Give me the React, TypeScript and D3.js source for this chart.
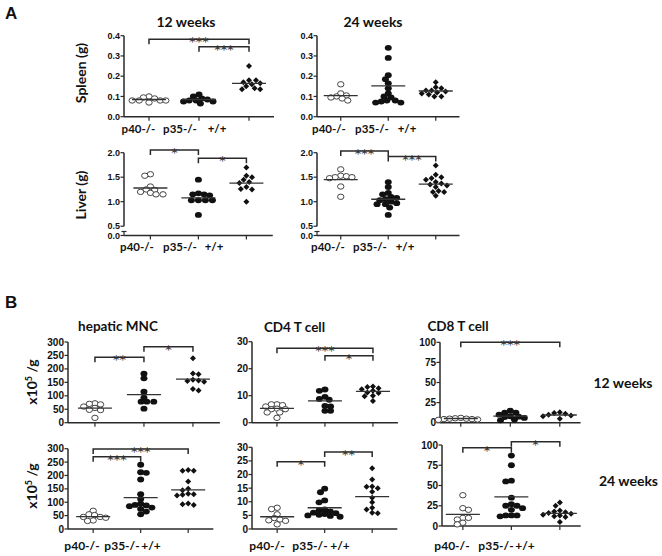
import React from 'react';
import * as d3 from 'd3';

const groups = ['p40-/-', 'p35-/-', '+/+'];

// ---------- Panel A: organ weights ----------
// Spleen (g), 12 weeks
const spleen12P40 = [0.10, 0.095, 0.09, 0.08, 0.08, 0.08, 0.08, 0.07];
const spleen12P35 = [0.11, 0.10, 0.09, 0.085, 0.08, 0.08, 0.075, 0.075, 0.065];
const spleen12WT = [0.25, 0.18, 0.18, 0.17, 0.165, 0.16, 0.15, 0.14, 0.135, 0.135];
const spleen12Means = [0.085, 0.085, 0.165];
// Spleen (g), 24 weeks
const spleen24P40 = [0.16, 0.115, 0.105, 0.1, 0.095, 0.09, 0.08];
const spleen24P35 = [0.34, 0.29, 0.205, 0.185, 0.165, 0.14, 0.115, 0.1, 0.095, 0.08, 0.08, 0.075, 0.07, 0.07];
const spleen24WT = [0.17, 0.145, 0.14, 0.13, 0.13, 0.125, 0.12, 0.115, 0.11, 0.1, 0.1];
const spleen24Means = [0.104, 0.152, 0.127];
// Liver (g), 12 weeks
const liver12P40 = [1.56, 1.53, 1.31, 1.25, 1.24, 1.2, 1.18, 1.15, 1.15];
const liver12P35 = [1.45, 1.15, 1.15, 1.13, 1.17, 1.03, 1.03, 1.03, 1.03, 0.73];
const liver12WT = [1.7, 1.53, 1.5, 1.45, 1.4, 1.38, 1.3, 1.26, 1.25, 1.0];
const liver12Means = [1.28, 1.08, 1.38];
// Liver (g), 24 weeks
const liver24P40 = [1.66, 1.53, 1.52, 1.5, 1.5, 1.48, 1.31, 1.1];
const liver24P35 = [1.4, 1.3, 1.18, 1.15, 1.1, 1.08, 1.05, 1.03, 1.0, 0.97, 0.95, 0.95, 0.88, 0.73];
const liver24WT = [1.74, 1.55, 1.5, 1.48, 1.45, 1.4, 1.37, 1.35, 1.33, 1.3, 1.22, 1.2, 1.2, 1.12];
const liver24Means = [1.45, 1.05, 1.36];

// ---------- Panel B: cell numbers (x10^5 / g) ----------
const mnc12P40 = [72, 70, 68, 60, 55, 48, 47, 18];
const mnc12P35 = [182, 165, 115, 93, 78, 78, 78, 52];
const mnc12WT = [240, 183, 180, 160, 157, 155, 152, 125, 120];
const mnc12Means = [54, 104, 162];
const cd4_12P40 = [6.8, 6.8, 6.5, 6.0, 5.2, 5.0, 5.0, 3.8, 3.8, 1.8];
const cd4_12P35 = [12.3, 11.8, 9.6, 8.8, 8.5, 6.2, 6.0, 4.4, 4.4];
const cd4_12WT = [13.4, 13.2, 12.8, 12.4, 11.8, 11.2, 11.0, 10.0, 9.8, 8.0];
const cd4_12Means = [5.3, 8.1, 11.6];
const cd8_12P40 = [6, 5.5, 5, 5, 4.5, 4.5, 4, 3.5];
const cd8_12P35 = [15, 12.5, 12.5, 10, 8, 7.5, 7, 6, 4, 3];
const cd8_12WT = [13, 12, 11, 10, 9, 8, 5];
const cd8_12Means = [5.2, 8.3, 9.6];

const mnc24P40 = [68, 55, 52, 45, 45, 42, 32, 30];
const mnc24P35 = [240, 212, 210, 185, 130, 112, 95, 90, 88, 85, 80, 75, 65, 55];
const mnc24WT = [220, 218, 218, 177, 150, 145, 132, 130, 128, 125, 95, 92, 90];
const mnc24Means = [46, 117, 146];
const cd4_24P40 = [7.8, 7.3, 5.4, 4.0, 3.5, 3.2, 3.0, 1.7];
const cd4_24P35 = [14.8, 13.5, 10.5, 9.8, 7.2, 6.8, 6.5, 6.0, 5.8, 5.5, 5.2, 5.0, 4.8, 4.5];
const cd4_24WT = [22.3, 18.2, 15.6, 15.0, 15.5, 13.7, 11.5, 9.8, 7.8, 7.2, 6.0, 5.8];
const cd4_24Means = [4.5, 7.8, 11.9];
const cd8_24P40 = [38, 22, 20, 10, 10, 8, 4, 2];
const cd8_24P35 = [87, 75, 56, 55, 35, 27, 25, 25, 22, 20, 13, 13, 13, 12];
const cd8_24WT = [29, 25, 19, 18, 17, 16, 15, 14, 13, 12, 11, 5];
const cd8_24Means = [14.4, 36, 15.6];

const spleenTicks = [0, 0.1, 0.2, 0.3, 0.4];
const liverTicks = [0, 0.5, 1.0, 1.5, 2.0];
const mncTicks = [0, 50, 100, 150, 200, 250, 300];
const cd4Ticks12 = [0, 10, 20, 30];
const cd4Ticks24 = [0, 5, 10, 15, 20, 25, 30];
const cd8Ticks = [0, 25, 50, 75, 100];

type Bracket = { from: number; to: number; level: number; label: string };
type Panel = {
  key: string;
  series: number[][];
  means: number[];
  yDomain: number[];
  yRange: number[];
  ticks: number[];
  fmt: (v: number) => string;
  axisX: number;
  step: number;
  pad: number;
  brackets: Bracket[];
  broken?: boolean;
  tickSize: number;
  labels?: { xs: number[]; y: number; size: number };
};

const f1 = d3.format('.1f');
const f0 = d3.format('d');

const panels: Panel[] = [
  {
    key: 'spleen12', series: [spleen12P40, spleen12P35, spleen12WT], means: spleen12Means,
    yDomain: [0, 0.4], yRange: [116.7, 35.7], ticks: spleenTicks, fmt: f1,
    axisX: 124, step: 50, pad: 0.5, tickSize: 9,
    brackets: [
      { from: 0, to: 2, level: 0.382, label: '***' },
      { from: 1, to: 2, level: 0.346, label: '***' },
    ],
    labels: { xs: [138.5, 180, 217], y: 133, size: 11.5 },
  },
  {
    key: 'spleen24', series: [spleen24P40, spleen24P35, spleen24WT], means: spleen24Means,
    yDomain: [0, 0.4], yRange: [116.7, 35.7], ticks: spleenTicks, fmt: f1,
    axisX: 317, step: 47.5, pad: 0.5, tickSize: 9, brackets: [],
    labels: { xs: [329, 372, 407], y: 133, size: 11.5 },
  },
  {
    key: 'liver12', series: [liver12P40, liver12P35, liver12WT], means: liver12Means,
    yDomain: [0, 0.5, 2], yRange: [235.5, 226.2, 152.7], ticks: liverTicks, fmt: f1,
    axisX: 124, step: 48, pad: 0.55, tickSize: 9, broken: true,
    brackets: [
      { from: 0, to: 1, level: 2.055, label: '*' },
      { from: 1, to: 2, level: 1.886, label: '*' },
    ],
    labels: { xs: [137, 180, 214], y: 251, size: 11.5 },
  },
  {
    key: 'liver24', series: [liver24P40, liver24P35, liver24WT], means: liver24Means,
    yDomain: [0, 0.5, 2], yRange: [235.5, 226.2, 152.7], ticks: liverTicks, fmt: f1,
    axisX: 317, step: 47.5, pad: 0.5, tickSize: 9, broken: true,
    brackets: [
      { from: 0, to: 1, level: 2.034, label: '***' },
      { from: 1, to: 2, level: 1.92, label: '***' },
    ],
    labels: { xs: [328, 370, 405], y: 251, size: 11.5 },
  },
  {
    key: 'mnc12', series: [mnc12P40, mnc12P35, mnc12WT], means: mnc12Means,
    yDomain: [0, 300], yRange: [422.7, 342], ticks: mncTicks, fmt: f0,
    axisX: 68, step: 49, pad: 0.55, tickSize: 10,
    brackets: [
      { from: 0, to: 1, level: 243, label: '**' },
      { from: 1, to: 2, level: 282, label: '*' },
    ],
  },
  {
    key: 'cd4_12', series: [cd4_12P40, cd4_12P35, cd4_12WT], means: cd4_12Means,
    yDomain: [0, 30], yRange: [422.7, 341.7], ticks: cd4Ticks12, fmt: f0,
    axisX: 252, step: 48, pad: 0.52, tickSize: 10,
    brackets: [
      { from: 0, to: 2, level: 27.6, label: '***' },
      { from: 1, to: 2, level: 24.8, label: '*' },
    ],
  },
  {
    key: 'cd8_12', series: [cd8_12P40, cd8_12P35, cd8_12WT], means: cd8_12Means,
    yDomain: [0, 100], yRange: [422.7, 342.3], ticks: cd8Ticks, fmt: f0,
    axisX: 440, step: 49.5, pad: 0.42, tickSize: 10,
    brackets: [{ from: 0, to: 2, level: 100, label: '***' }],
  },
  {
    key: 'mnc24', series: [mnc24P40, mnc24P35, mnc24WT], means: mnc24Means,
    yDomain: [0, 300], yRange: [529, 448.7], ticks: mncTicks, fmt: f0,
    axisX: 68, step: 47.5, pad: 0.53, tickSize: 10,
    brackets: [
      { from: 0, to: 2, level: 299, label: '***' },
      { from: 0, to: 1, level: 270, label: '***' },
    ],
    labels: { xs: [82, 122, 151], y: 550, size: 12 },
  },
  {
    key: 'cd4_24', series: [cd4_24P40, cd4_24P35, cd4_24WT], means: cd4_24Means,
    yDomain: [0, 30], yRange: [529, 447.3], ticks: cd4Ticks24, fmt: f0,
    axisX: 252, step: 47.5, pad: 0.53, tickSize: 10,
    brackets: [
      { from: 0, to: 1, level: 24.7, label: '*' },
      { from: 1, to: 2, level: 28.3, label: '**' },
    ],
    labels: { xs: [267, 310, 340], y: 550, size: 12 },
  },
  {
    key: 'cd8_24', series: [cd8_24P40, cd8_24P35, cd8_24WT], means: cd8_24Means,
    yDomain: [0, 100], yRange: [526, 445], ticks: cd8Ticks, fmt: f0,
    axisX: 442, step: 48.5, pad: 0.43, tickSize: 10,
    brackets: [
      { from: 0, to: 1, level: 96.7, label: '*' },
      { from: 1, to: 2, level: 104, label: '*' },
    ],
    labels: { xs: [452, 496, 525], y: 550, size: 12 },
  },
];

const AX = '#2a2a2a';
const TXT = '#111';
const LABEL_FONT = 'Lato, "Open Sans", sans-serif';
const TICK_FONT = '"Liberation Sans", Arial, sans-serif';

function swarm(values: number[], y: (v: number) => number, cx: number) {
  const minDx = 5.6;
  const minDy = 4.2;
  const stepPx = 1.4;
  const order = values.map((v, i) => ({ v, i })).sort((a, b) => b.v - a.v);
  const placed: { x: number; y: number }[] = [];
  order.forEach((o, k) => {
    const py = y(o.v);
    const sign = k % 2 === 0 ? 1 : -1;
    for (let j = 0; j < 400; j++) {
      const off = j === 0 ? 0 : sign * (j % 2 === 1 ? 1 : -1) * Math.ceil(j / 2) * stepPx;
      const px = cx + off;
      if (placed.every((p) => ((p.x - px) / minDx) ** 2 + ((p.y - py) / minDy) ** 2 >= 1)) {
        placed.push({ x: px, y: py });
        break;
      }
    }
  });
  return placed;
}

function Marker({ g, x, y }: { g: number; x: number; y: number }) {
  if (g === 0) return <ellipse cx={x} cy={y} rx={3.2} ry={2.7} fill="#fff" stroke="#444" strokeWidth={1} />;
  if (g === 1) return <ellipse cx={x} cy={y} rx={3.5} ry={2.9} fill="#111" />;
  return <path d={`M${x},${y - 3}L${x + 3},${y}L${x},${y + 3}L${x - 3},${y}Z`} fill="#111" />;
}

function PanelView({ p }: { p: Panel }) {
  const y = d3.scaleLinear().domain(p.yDomain).range(p.yRange);
  const xEnd = p.axisX + p.step * (2 + 2 * p.pad);
  const x = d3.scalePoint<string>().domain(groups).range([p.axisX, xEnd]).padding(p.pad);
  const y0 = y(0);
  const yTopVal = p.yDomain[p.yDomain.length - 1];
  const axisBottom = p.broken ? y(0.5) : y0;
  return (
    <g>
      {/* y axis */}
      <line x1={p.axisX} x2={p.axisX} y1={y(yTopVal)} y2={axisBottom} stroke={AX} strokeWidth={1.5} />
      {p.broken && (
        <g>
          <line x1={p.axisX} x2={p.axisX} y1={y0 - 4} y2={y0} stroke={AX} strokeWidth={1.2} />
          <line x1={p.axisX - 2.5} x2={p.axisX + 2.5} y1={y0 - 4} y2={y0 - 4} stroke={AX} strokeWidth={1.2} />
        </g>
      )}
      {p.ticks.map((t) => (
        <g key={t}>
          <line x1={p.axisX - 3.5} x2={p.axisX} y1={y(t)} y2={y(t)} stroke={AX} strokeWidth={1.2} />
          <text x={p.axisX - 4} y={y(t)} dy="0.35em" textAnchor="end" fontFamily={TICK_FONT}
            fontWeight="bold" fontSize={p.tickSize} fill={TXT}>{p.fmt(t)}</text>
        </g>
      ))}
      {/* x axis */}
      <line x1={p.axisX} x2={xEnd} y1={y0} y2={y0} stroke={AX} strokeWidth={1.5} />
      {groups.map((g) => (
        <line key={g} x1={x(g)} x2={x(g)} y1={y0} y2={y0 + 4} stroke={AX} strokeWidth={1.2} />
      ))}
      {/* points */}
      {p.series.map((vals, gi) => {
        const cx = x(groups[gi]) as number;
        const pts = swarm(vals, y, cx);
        return (
          <g key={gi}>
            {pts.map((pt, k) => <Marker key={k} g={gi} x={pt.x} y={pt.y} />)}
            <line x1={cx - 17} x2={cx + 17} y1={y(p.means[gi])} y2={y(p.means[gi])} stroke="#333" strokeWidth={1.3} />
          </g>
        );
      })}
      {/* brackets */}
      {p.brackets.map((b, i) => {
        const x1 = x(groups[b.from]) as number;
        const x2 = x(groups[b.to]) as number;
        const by = y(b.level);
        return (
          <g key={i}>
            <path d={`M${x1},${by + 5}V${by}H${x2}V${by + 5}`} fill="none" stroke={AX} strokeWidth={1.5} />
            <text x={(x1 + x2) / 2} y={by + 7} textAnchor="middle" fontFamily="DejaVu Sans, sans-serif"
              fontSize={13} fill="#333">{b.label}</text>
          </g>
        );
      })}
      {/* category labels */}
      {p.labels && groups.map((g, i) => (
        <text key={g} x={p.labels!.xs[i]} y={p.labels!.y} textAnchor="middle" fontFamily={LABEL_FONT}
          fontWeight="bold" fontSize={p.labels!.size} fill={TXT}>{g}</text>
      ))}
    </g>
  );
}

function YTitle({ x, y, children }: { x: number; y: number; children: React.ReactNode }) {
  return (
    <text transform={`translate(${x},${y}) rotate(-90)`} textAnchor="middle" dy="0.35em"
      fontFamily={LABEL_FONT} fontWeight="bold" fontSize={14} fill={TXT}>{children}</text>
  );
}

export default function App() {
  return (
    <svg width={662} height={556} style={{ position: 'absolute', left: 0, top: 0, background: '#fff' }}>
      <rect width={662} height={556} fill="#fff" />
      <text x={5} y={19} fontFamily={TICK_FONT} fontWeight="bold" fontSize={17} fill={TXT}>A</text>
      <text x={5} y={308} fontFamily={TICK_FONT} fontWeight="bold" fontSize={17} fill={TXT}>B</text>

      <text x={186} y={27} textAnchor="middle" fontFamily={LABEL_FONT} fontWeight="bold" fontSize={14} fill={TXT}>12 weeks</text>
      <text x={373} y={27} textAnchor="middle" fontFamily={LABEL_FONT} fontWeight="bold" fontSize={14} fill={TXT}>24 weeks</text>
      <YTitle x={81.5} y={73}>Spleen (g)</YTitle>
      <YTitle x={81} y={195}>Liver (g)</YTitle>

      <text x={118} y={331} textAnchor="middle" fontFamily={LABEL_FONT} fontWeight="bold" fontSize={13.5} fill={TXT}>hepatic MNC</text>
      <text x={294.5} y={332} textAnchor="middle" fontFamily={LABEL_FONT} fontWeight="bold" fontSize={13.5} fill={TXT}>CD4 T cell</text>
      <text x={458} y={331} textAnchor="middle" fontFamily={LABEL_FONT} fontWeight="bold" fontSize={13.5} fill={TXT}>CD8 T cell</text>
      <text x={623} y={388} textAnchor="middle" fontFamily={LABEL_FONT} fontWeight="bold" fontSize={14} fill={TXT}>12 weeks</text>
      <text x={628.5} y={486} textAnchor="middle" fontFamily={LABEL_FONT} fontWeight="bold" fontSize={14} fill={TXT}>24 weeks</text>
      <YTitle x={32} y={382}>x10<tspan fontSize={9} dy={-5}>5</tspan><tspan dy={5}> /g</tspan></YTitle>
      <YTitle x={32} y={486}>x10<tspan fontSize={9} dy={-5}>5</tspan><tspan dy={5}> /g</tspan></YTitle>

      {panels.map((p) => <PanelView key={p.key} p={p} />)}
    </svg>
  );
}
